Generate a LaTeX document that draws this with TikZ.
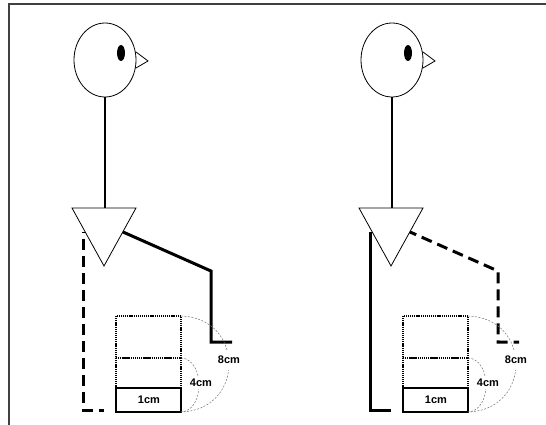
\documentclass[tikz,border=0pt]{standalone}
\usepackage{fontspec}
\setmainfont{Liberation Sans}

\begin{document}
\begin{tikzpicture}[x=1pt,y=-1pt,
  arm/.style={line width=3pt},
  dasharm/.style={arm,dash pattern=on 11pt off 6pt},
  ldash/.style={dasharm,dash phase=10pt},
  rdash/.style={dasharm,dash phase=4.25pt},
  dotbox/.style={line width=2pt,dash pattern=on 1.2pt off 0.9pt},
  guide/.style={black!55,line width=0.5pt,dash pattern=on 2pt off 1.5pt},
  size/.style={fill=white,inner xsep=1pt,inner ysep=6pt,font=\bfseries\fontsize{11}{13}\selectfont}]
\useasboundingbox (0,0) rectangle (546,425);
\draw[line width=1.2pt,black!75] (9,425) -- (9,4) -- (546,4);
% two birds, only the dashed arm changes side
\foreach \dx/\lft/\rgt in {0/ldash/arm, 287/arm/rdash}{
\begin{scope}[shift={(\dx,0)}]
\draw[line width=1.5pt] (105,97) -- (105,208);
\draw[line width=0.8pt] (105,60) ellipse (31 and 37);
\fill (121,53) ellipse (4 and 8);
\draw[line width=0.8pt] (136,52) -- (148,61) -- (136,68);
\draw[line width=0.8pt,fill=white] (72,208) -- (136,208) -- (104,266) -- cycle;
\draw[\lft] (83,232) -- (83,410) -- (104,410);
\draw[\rgt] (123,232) -- (211,271) -- (211,342) -- (232,342);
\draw[dotbox] (116,316) rectangle (181,358);
\draw[dotbox] (116,358) rectangle (181,388);
\draw[line width=2pt] (116,388) rectangle (181,412);
\draw[guide] (181,316) .. controls (245,318) and (245,410) .. (181,412);
\draw[guide] (181,358) .. controls (205,359) and (205,411) .. (181,412);
\node[size] at (229,360) {8cm};
\node[size,inner ysep=2pt] at (201,383) {4cm};
\node[size,fill=none] at (149,400) {1cm};
\end{scope}}
\end{tikzpicture}
\end{document}
